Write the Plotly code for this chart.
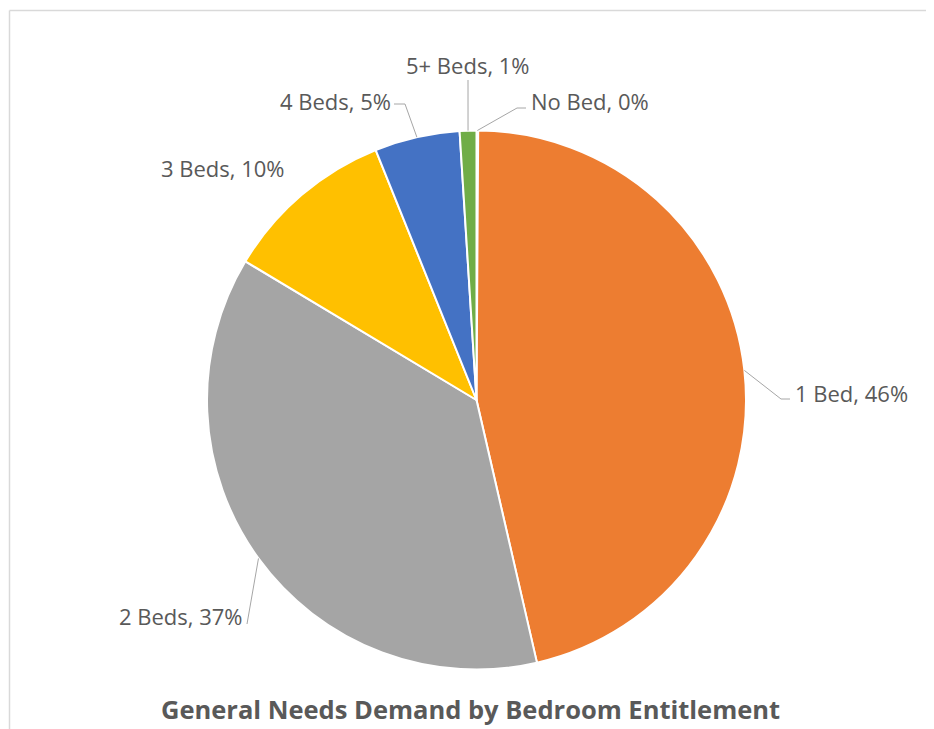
import math
import plotly.graph_objects as go

# ---- data ----
labels = ["No Bed", "1 Bed", "2 Beds", "3 Beds", "4 Beds", "5+ Beds"]
values = [0.1, 46.3, 37.2, 10.3, 5.1, 1.0]
colors = ["#5B9BD5", "#ED7D31", "#A5A5A5", "#FFC000", "#4472C4", "#70AD47"]
title_text = "General Needs Demand by Bedroom Entitlement"

# ---- layout / style ----
OFF = 8  # default page body margin
W, H = 934 - OFF, 729 - OFF
CX, CY, R = 476.5, 400.0, 269.5
TXT = "#595959"
FONT = "Open Sans"

# label placement style (page pixels): text position, anchor, optional elbow, line end
label_style = {
    "No Bed": dict(x=529, y=101, xanchor="left", elbow=(517, 108), end=(526, 108)),
    "1 Bed": dict(x=793, y=393, xanchor="left", elbow=(781, 399), end=(790, 399)),
    "2 Beds": dict(x=245, y=616, xanchor="right", elbow=None, end=(247, 624)),
    "3 Beds": dict(x=287, y=168, xanchor="right", elbow=None, end=None),
    "4 Beds": dict(x=393, y=101, xanchor="right", elbow=(405, 104), end=(394, 104)),
    "5+ Beds": dict(x=468, y=65, xanchor="center", elbow=None, end=(468, 80)),
}


def px(x):
    return (x - OFF) / W


def py(y):
    return 1 - (y - OFF) / H


fig = go.Figure(
    go.Pie(
        labels=labels,
        values=values,
        sort=False,
        direction="clockwise",
        rotation=0,
        marker=dict(colors=colors, line=dict(color="white", width=2)),
        textinfo="none",
        hoverinfo="label+percent",
        showlegend=False,
        domain=dict(x=[px(CX - R), px(CX + R)], y=[py(CY + R), py(CY - R)]),
    )
)

total = sum(values)
shapes = []
annotations = []
cum = 0.0
for lab, v in zip(labels, values):
    mid = (cum + v / 2) / total * 2 * math.pi
    cum += v
    rim = (CX + R * math.sin(mid), CY - R * math.cos(mid))
    st = label_style[lab]
    pct = round(v / total * 100)
    annotations.append(
        dict(
            x=px(st["x"]), y=py(st["y"]), xref="paper", yref="paper",
            text=f"{lab}, {pct}%", showarrow=False,
            xanchor=st["xanchor"], yanchor="middle",
            font=dict(family=FONT, size=22, color=TXT),
        )
    )
    if st["end"] is not None:
        pts = [rim]
        if st["elbow"] is not None:
            pts.append(st["elbow"])
        pts.append(st["end"])
        path = "M " + " L ".join(f"{px(a)},{py(b)}" for a, b in pts)
        shapes.append(
            dict(type="path", xref="paper", yref="paper", path=path,
                 line=dict(color="#A6A6A6", width=1))
        )

annotations.append(
    dict(
        x=px(470), y=py(709), xref="paper", yref="paper",
        text=f"<b>{title_text}</b>", showarrow=False,
        xanchor="center", yanchor="middle",
        font=dict(family=FONT, size=25.5, color=TXT),
    )
)

# chart border (left and top edges visible)
shapes.append(dict(type="line", xref="paper", yref="paper",
                   x0=px(9.5), y0=py(10.5), x1=px(9.5), y1=0,
                   line=dict(color="#D9D9D9", width=1.5)))
shapes.append(dict(type="line", xref="paper", yref="paper",
                   x0=px(9.5), y0=py(10.5), x1=1, y1=py(10.5),
                   line=dict(color="#D9D9D9", width=1.5)))

fig.update_layout(
    width=W, height=H,
    margin=dict(l=0, r=0, t=0, b=0),
    paper_bgcolor="white", plot_bgcolor="white",
    shapes=shapes, annotations=annotations,
)

fig.write_html("out.html")
